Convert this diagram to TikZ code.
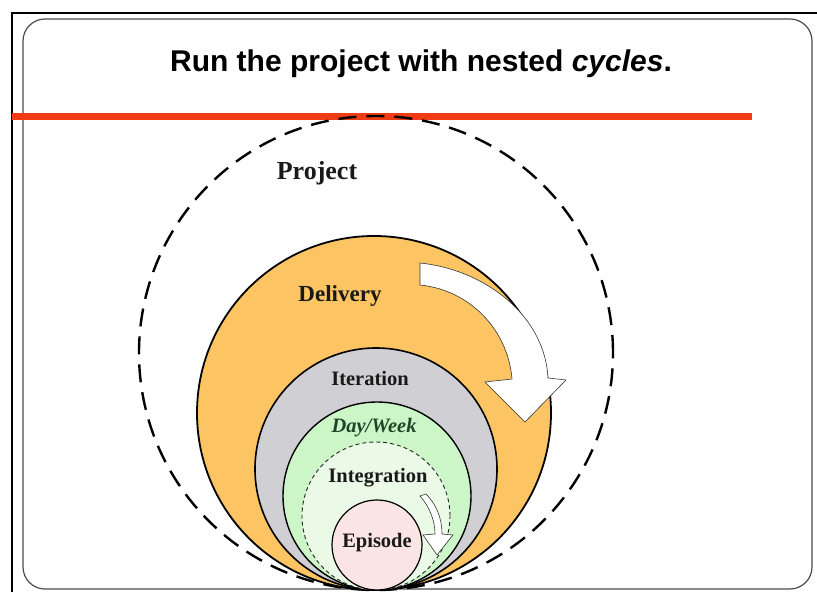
\documentclass[tikz,border=0pt]{standalone}
\usepackage{fontspec}
\setmainfont{Liberation Serif}
\newfontfamily\headfont{Liberation Sans}
\usepackage{tikz}
\usepackage{xcolor}
\definecolor{deliveryorange}{RGB}{252,196,98}
\definecolor{iterationgray}{RGB}{208,208,212}
\definecolor{daygreen}{RGB}{204,246,200}
\definecolor{integrationgreen}{RGB}{234,250,230}
\definecolor{episodepink}{RGB}{250,228,228}
\definecolor{rulered}{RGB}{240,60,20}
\definecolor{weekgreen}{RGB}{30,70,40}
\tikzset{>=latex,
  ring/.style={draw=black, line width=1.8pt},
  ringlabel/.style={inner sep=0pt, text=black!90, font=\bfseries\fontsize{20.5}{24}\selectfont},
  turnarrow/.style={fill=white, draw=black!80, line width=0.6pt, line join=miter}}

\begin{document}
\begin{tikzpicture}[x=1pt, y=1pt]
      \useasboundingbox (0, 0) rectangle (817, 592);
      \draw[line width=1.5pt] (12, 0) -- (12, 579) -- (817, 579);
      \draw[black!70, line width=1.2pt, rounded corners=22pt] (23, 3) rectangle (812, 573);
      \node[inner sep=0pt, font=\headfont\bfseries\fontsize{30}{36}\selectfont] (title) at (421, 528) {Run the project with nested \textit{cycles}.};
      \draw[rulered, line width=7pt] (12, 475) -- (752, 475);
      \draw[black, line width=2.4pt, dash pattern=on 18pt off 10pt] (376, 239) circle (237);
      \draw[ring, fill=deliveryorange] (374, 179) circle (177);
      \draw[turnarrow] (420, 329) .. controls (487, 322) and (545, 275) .. (548, 214) -- (566, 212) -- (525, 170)
        -- (485, 210) -- (512, 213) .. controls (508, 262) and (470, 302) .. (420, 307) -- cycle;
      \draw[ring, line width=1.6pt, fill=iterationgray] (376, 123) circle (121);
      \draw[ring, line width=1.4pt, fill=daygreen] (377, 96) circle (94);
      \draw[black!85, line width=0.9pt, dash pattern=on 4pt off 3pt, fill=integrationgreen] (376, 76) circle (74);
      \draw[ring, line width=1.2pt, fill=episodepink] (377, 47) circle (45);
      \draw[turnarrow] (426, 98) .. controls (436, 88) and (442, 74) .. (442, 58) -- (453, 57) -- (437, 37)
        -- (423, 57) -- (435, 58) .. controls (435, 72) and (429, 86) .. (420, 96) -- cycle;
      \node[ringlabel, font=\bfseries\fontsize{26}{30}\selectfont] (project) at (317, 419) {Project};
      \node[ringlabel, font=\bfseries\fontsize{23}{27}\selectfont] (delivery) at (340, 296) {Delivery};
      \node[ringlabel] (iteration) at (370, 214) {Iteration};
      \node[ringlabel, text=weekgreen, font=\bfseries\itshape\fontsize{20.5}{24}\selectfont] (dayweek) at (374, 164) {Day/Week};
      \node[ringlabel] (integration) at (378, 114) {Integration};
      \node[ringlabel] (episode) at (377, 49) {Episode};
    \end{tikzpicture}
\end{document}
